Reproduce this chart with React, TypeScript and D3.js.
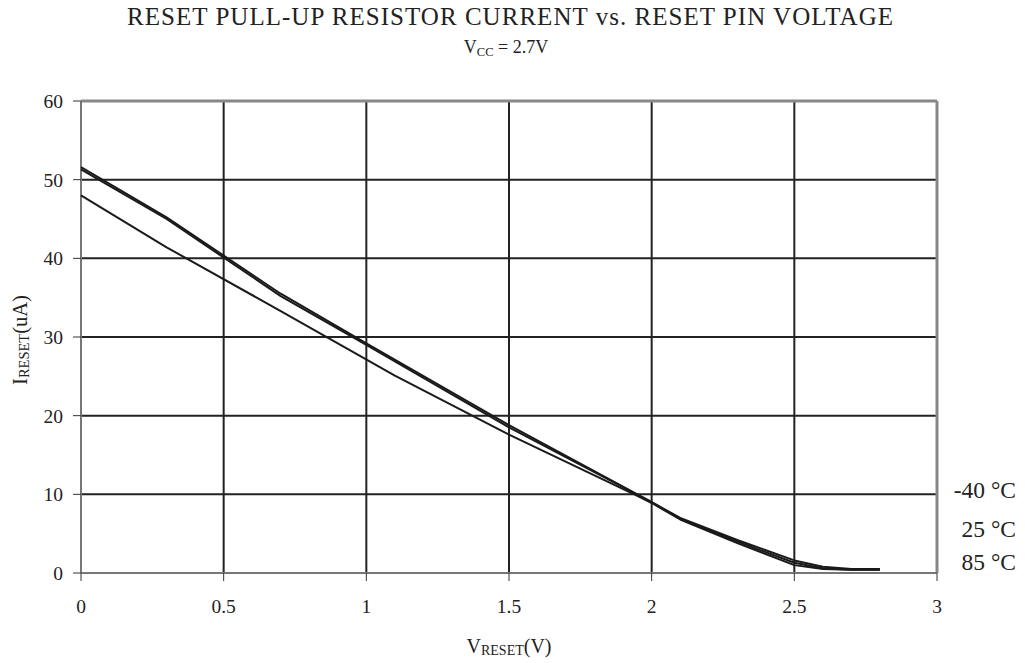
import React from "react";
import * as d3 from "d3";

const xTicks = [0, 0.5, 1, 1.5, 2, 2.5, 3];
const yTicks = [0, 10, 20, 30, 40, 50, 60];

const seriesNames = ["-40 °C", "25 °C", "85 °C"];

const vM40 = [0, 0.3, 0.7, 1.0, 1.5, 2.0, 2.1, 2.3, 2.5, 2.6, 2.7, 2.8];
const iM40 = [51.6, 45.2, 35.5, 29.2, 18.8, 9.0, 7.0, 4.2, 1.6, 0.8, 0.5, 0.5];

const v25 = [0, 0.3, 0.7, 1.0, 1.5, 2.0, 2.1, 2.3, 2.5, 2.6, 2.7, 2.8];
const i25 = [51.3, 45.0, 35.2, 29.0, 18.5, 9.0, 6.9, 4.0, 1.3, 0.6, 0.4, 0.4];

const v85 = [0, 0.3, 0.7, 1.1, 1.5, 1.95, 2.0, 2.1, 2.3, 2.5, 2.6, 2.7, 2.8];
const i85 = [48.0, 41.4, 33.3, 25.1, 17.6, 9.8, 8.9, 6.8, 3.8, 1.0, 0.5, 0.4, 0.4];

const W = 1025;
const H = 663;
const left = 81;
const right = 937;
const top = 101;
const bottom = 573;

export default function App() {
  const x = d3.scaleLinear().domain([0, 3]).range([left, right]);
  const y = d3.scaleLinear().domain([0, 60]).range([bottom, top]);
  const line = d3
    .line<[number, number]>()
    .x((d) => x(d[0]))
    .y((d) => y(d[1]));
  const series = [
    vM40.map((v, i) => [v, iM40[i]] as [number, number]),
    v25.map((v, i) => [v, i25[i]] as [number, number]),
    v85.map((v, i) => [v, i85[i]] as [number, number]),
  ];
  const legendY = [498, 537, 570];
  const font = "'Liberation Serif', 'Times New Roman', serif";
  return (
    <svg
      width={W}
      height={H}
      style={{ position: "absolute", left: 0, top: 0, background: "#fff" }}
      fontFamily={font}
    >
      <text
        x={127}
        y={25}
        textAnchor="start"
        fontSize={25}
        fill="#222"
        textLength={766}
        lengthAdjust="spacing"
      >
        RESET PULL-UP RESISTOR CURRENT vs. RESET PIN VOLTAGE
      </text>
      <text x={506} y={52.5} textAnchor="middle" fontSize={18} fill="#222">
        V<tspan fontSize={12.5} dy={3}>CC</tspan>
        <tspan dy={-3}> = 2.7V</tspan>
      </text>

      {/* gridlines */}
      {yTicks.slice(1, -1).map((t) => (
        <line key={"gy" + t} x1={left} x2={right} y1={y(t)} y2={y(t)} stroke="#222" strokeWidth={2} />
      ))}
      {xTicks.slice(1, -1).map((t) => (
        <line key={"gx" + t} x1={x(t)} x2={x(t)} y1={top} y2={bottom} stroke="#222" strokeWidth={2} />
      ))}
      {/* frame */}
      <line x1={left} x2={right} y1={top} y2={top} stroke="#888" strokeWidth={3} />
      <line x1={right} x2={right} y1={top} y2={bottom} stroke="#888" strokeWidth={3} />
      <line x1={left} x2={left} y1={top} y2={bottom} stroke="#777" strokeWidth={2} />
      <line x1={left} x2={right} y1={bottom} y2={bottom} stroke="#777" strokeWidth={2} />

      {/* ticks */}
      {yTicks.map((t) => (
        <g key={"ty" + t}>
          <line x1={left - 8} x2={left} y1={y(t)} y2={y(t)} stroke="#333" strokeWidth={1} />
          <text x={63} y={y(t) + 7} textAnchor="end" fontSize={19.5} fill="#222">
            {t}
          </text>
        </g>
      ))}
      {xTicks.map((t) => (
        <g key={"tx" + t}>
          <line x1={x(t)} x2={x(t)} y1={bottom} y2={bottom + 8} stroke="#333" strokeWidth={1} />
          <text x={x(t)} y={613} textAnchor="middle" fontSize={19.5} fill="#222">
            {t}
          </text>
        </g>
      ))}

      {/* axis titles */}
      <text x={509} y={653} textAnchor="middle" fontSize={20} fill="#222">
        V<tspan fontSize={14} dy={2}>RESET</tspan>
        <tspan dy={-2}>(V)</tspan>
      </text>
      <text
        transform={`translate(27,${340}) rotate(-90)`}
        textAnchor="middle"
        fontSize={20.5}
        fill="#222"
      >
        I<tspan fontSize={14.5} dy={2}>RESET</tspan>
        <tspan dy={-2}>(uA)</tspan>
      </text>

      {/* series */}
      {series.map((s, k) => (
        <path key={"s" + k} d={line(s) || ""} fill="none" stroke="#1a1a1a" strokeWidth={2} strokeLinejoin="round" />
      ))}

      {/* legend labels */}
      {seriesNames.map((n, k) => (
        <text key={"l" + k} x={1016} y={legendY[k]} textAnchor="end" fontSize={23.5} fill="#222">
          {n}
        </text>
      ))}
    </svg>
  );
}
